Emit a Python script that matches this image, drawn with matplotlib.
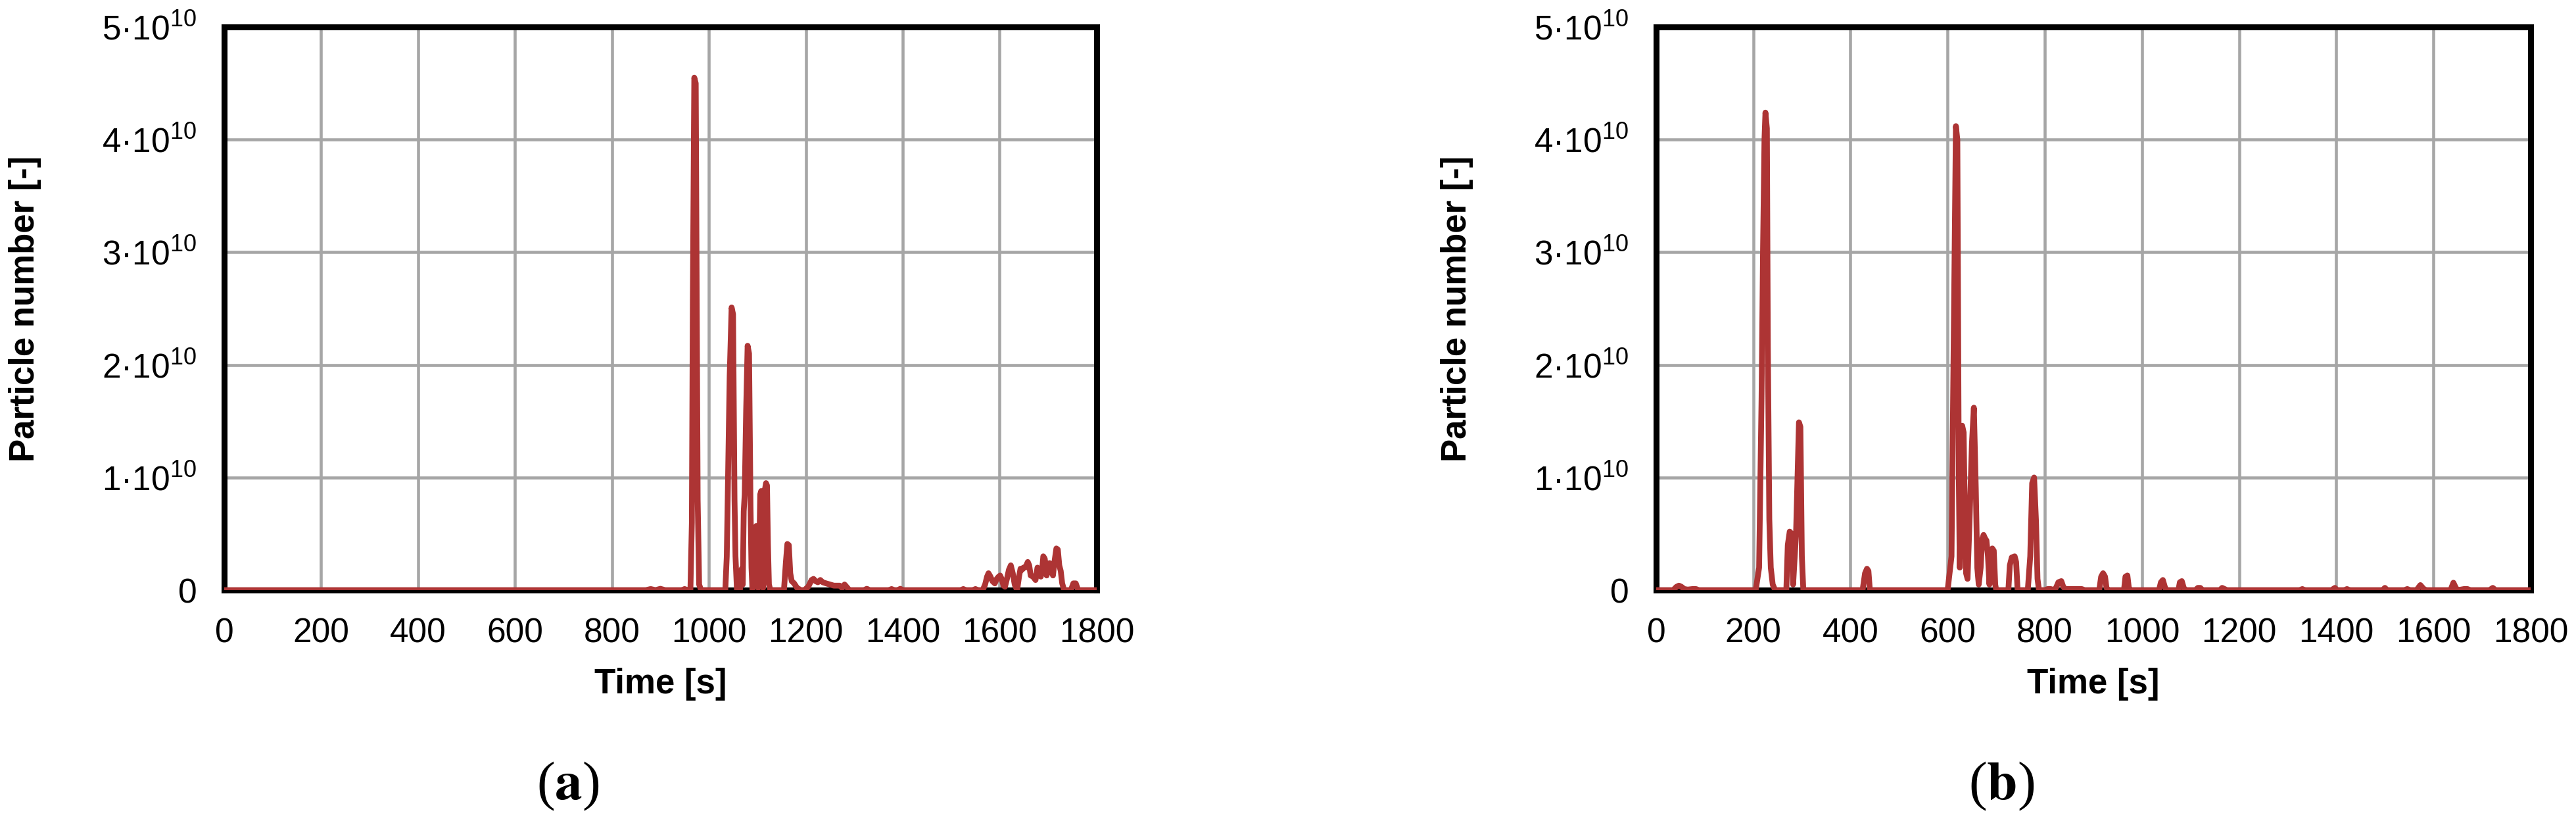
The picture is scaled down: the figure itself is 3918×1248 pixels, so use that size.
import numpy as np
import matplotlib
matplotlib.use("Agg")
import matplotlib.pyplot as plt

plt.rcParams['font.family'] = ['Liberation Sans', 'DejaVu Sans']
plt.rcParams['mathtext.default'] = 'regular'

# particle number, in units of 1e10
time_a = [0, 870, 880, 890, 900, 910, 945, 950, 956,
          962, 965, 967, 970, 973, 975, 977, 980, 984,
          1034, 1037, 1039, 1043, 1047, 1050, 1053, 1055, 1058,
          1064, 1066, 1068, 1070, 1072, 1074, 1077, 1080, 1083, 1086, 1088, 1090,
          1092, 1095, 1098, 1100, 1102, 1104, 1106, 1108, 1110, 1112, 1114, 1116, 1118, 1120, 1122, 1124, 1127,
          1155, 1159, 1162, 1165, 1168, 1171, 1176, 1182, 1190, 1197,
          1205, 1212, 1216, 1220, 1225, 1230, 1235, 1242, 1250, 1258, 1265, 1270, 1275, 1280, 1284, 1290,
          1320, 1326, 1332, 1372, 1377, 1382, 1390, 1395, 1400, 1520, 1525, 1530, 1545, 1550, 1555,
          1565, 1570, 1574, 1577, 1581, 1585, 1590, 1594, 1598, 1601,
          1604, 1608, 1611, 1615, 1619, 1623, 1627, 1631, 1636, 1640,
          1643, 1646, 1649, 1653, 1658, 1661, 1664, 1669, 1674, 1678,
          1681, 1685, 1688, 1690, 1693, 1697, 1700, 1703, 1706, 1710,
          1713, 1717, 1720, 1723, 1726, 1729, 1733, 1740, 1747, 1752,
          1757, 1762, 1767, 1800]
pn_a = [0, 0, 0.01, 0, 0.012, 0, 0, 0.01, 0,
        0, 0.6, 2.6, 4.55, 4.5, 2.6, 0.8, 0.05, 0,
        0, 0.3, 0.82, 1.9, 2.51, 2.45, 0.8, 0.3, 0,
        0, 0.05, 0.19, 0.05, 0.7, 0.85, 1.6, 2.17, 2.1, 0.75, 0.2, 0,
        0.05, 0.5, 0.57, 0.55, 0.02, 0.3, 0.85, 0.88, 0.4, 0.02, 0.6, 0.9, 0.95, 0.93, 0.4, 0.05, 0,
        0, 0.25, 0.41, 0.4, 0.15, 0.08, 0.06, 0.02, 0, 0,
        0.03, 0.09, 0.1, 0.08, 0.07, 0.09, 0.07, 0.06, 0.05, 0.04, 0.04, 0.04, 0.02, 0.05, 0.03, 0,
        0, 0.012, 0, 0, 0.01, 0, 0, 0.012, 0, 0, 0.01, 0, 0, 0.01, 0,
        0, 0.05, 0.12, 0.15, 0.12, 0.08, 0.06, 0.1, 0.12, 0.13,
        0.1, 0.04, 0.03, 0.1, 0.18, 0.22, 0.15, 0.05, 0, 0.12,
        0.19, 0.18, 0.2, 0.2, 0.25, 0.22, 0.13, 0.12, 0.09, 0.2,
        0.17, 0.12, 0.2, 0.3, 0.28, 0.13, 0.2, 0.24, 0.2, 0.13,
        0.25, 0.37, 0.36, 0.22, 0.17, 0.06, 0, 0, 0, 0.06,
        0.06, 0, 0, 0]

time_b = [0, 35, 42, 47, 52, 58, 65, 75, 82, 88,
          205, 212, 217, 220, 223, 225, 228, 230, 233, 236, 240, 245,
          268, 271, 275, 279, 282, 285, 288, 291, 294, 297, 300, 303,
          425, 430, 434, 437, 440,
          600, 608, 612, 617, 620, 623, 625, 627, 630, 633, 636, 638, 641, 645, 650, 654, 658, 661, 664,
          668, 671, 674, 677, 680, 683, 686, 689, 692, 695, 698, 700,
          725, 728, 732, 738, 741, 744,
          765, 770, 774, 778, 782, 785, 788,
          800, 806, 812, 820, 824, 828, 834, 838, 842, 870, 876, 882,
          912, 916, 920, 924, 927, 930, 963, 966, 970, 973, 976,
          1035, 1039, 1043, 1047, 1050, 1075, 1078, 1082, 1086, 1090,
          1110, 1115, 1120, 1125, 1160, 1165, 1170, 1175,
          1325, 1330, 1335, 1390, 1397, 1402, 1417, 1422, 1427, 1495, 1500, 1505, 1540, 1546, 1552,
          1565, 1573, 1580, 1585, 1635, 1641, 1646, 1650, 1663, 1670, 1675, 1715, 1722, 1728, 1800]
pn_b = [0, 0, 0.03, 0.04, 0.03, 0.01, 0.005, 0.01, 0.01, 0,
        0, 0.2, 1.7, 3.0, 4.0, 4.24, 4.1, 2.16, 0.63, 0.2, 0.05, 0,
        0, 0.4, 0.52, 0.5, 0.05, 0.28, 0.5, 1.0, 1.49, 1.45, 0.3, 0,
        0, 0.15, 0.19, 0.17, 0,
        0, 0.3, 2.0, 4.12, 4.0, 1.0, 0.2, 0.6, 1.46, 1.4, 0.5, 0.15, 0.1, 0.6, 1.3, 1.62, 0.9, 0.2, 0.05,
        0.2, 0.45, 0.49, 0.46, 0.44, 0.3, 0.05, 0.3, 0.37, 0.35, 0.05, 0,
        0, 0.22, 0.29, 0.3, 0.25, 0,
        0, 0.3, 0.95, 1.0, 0.6, 0.1, 0,
        0, 0.01, 0.01, 0, 0.03, 0.07, 0.08, 0.03, 0.01, 0.01, 0.01, 0,
        0, 0.12, 0.15, 0.12, 0.02, 0, 0, 0.12, 0.13, 0.02, 0,
        0, 0.07, 0.09, 0.03, 0, 0, 0.07, 0.08, 0.02, 0,
        0, 0.02, 0.02, 0, 0, 0.02, 0.01, 0,
        0, 0.01, 0, 0, 0.02, 0, 0, 0.01, 0, 0, 0.02, 0, 0, 0.01, 0,
        0, 0.045, 0.01, 0, 0, 0.066, 0.02, 0, 0.01, 0.01, 0, 0, 0.02, 0, 0]

x_ticks = [0, 200, 400, 600, 800, 1000, 1200, 1400, 1600, 1800]
y_ticks = [0, 1e10, 2e10, 3e10, 4e10, 5e10]
y_labels = ['0', '1·10$^{10}$', '2·10$^{10}$', '3·10$^{10}$', '4·10$^{10}$', '5·10$^{10}$']
captions = ['a', 'b']
caption_x = [0.2205, 0.777]

fig = plt.figure(figsize=(39.18, 12.48), dpi=100)
ax_a = fig.add_axes([0.0870, 0.2812, 0.3387, 0.6859])
ax_b = fig.add_axes([0.6429, 0.2812, 0.3395, 0.6859])

panels = [(ax_a, time_a, pn_a), (ax_b, time_b, pn_b)]
for i, (ax, t, pn) in enumerate(panels):
    ax.plot(t, np.array(pn) * 1e10, color='#AD3434', lw=6.3, solid_joinstyle='round', zorder=3)
    ax.set_xlim(0, 1800)
    ax.set_ylim(0, 5e10)
    ax.set_xticks(x_ticks)
    ax.set_yticks(y_ticks)
    ax.set_yticklabels(y_labels)
    ax.grid(True, color='#A6A6A6', lw=3.3)
    ax.set_axisbelow(True)
    for s in ax.spines.values():
        s.set_linewidth(6.5)
        s.set_color('black')
    ax.tick_params(length=0, labelsize=37)
    ax.tick_params(axis='y', pad=30)
    ax.tick_params(axis='x', pad=30)
    ax.set_xlabel('Time [s]', fontsize=38, fontweight='bold', va='center')
    ax.set_ylabel('Particle number [-]', fontsize=38, fontweight='bold', va='center')
    ax.xaxis.set_label_coords(0.5, -0.167)
    ax.yaxis.set_label_coords(-0.228, 0.5)
    fig.text(caption_x[i], 0.042, '($\\mathbf{' + captions[i] + '}$)',
             family='Liberation Serif', math_fontfamily='stix', fontsize=60,
             ha='center', va='center')

fig.savefig('out.png', dpi=100)
